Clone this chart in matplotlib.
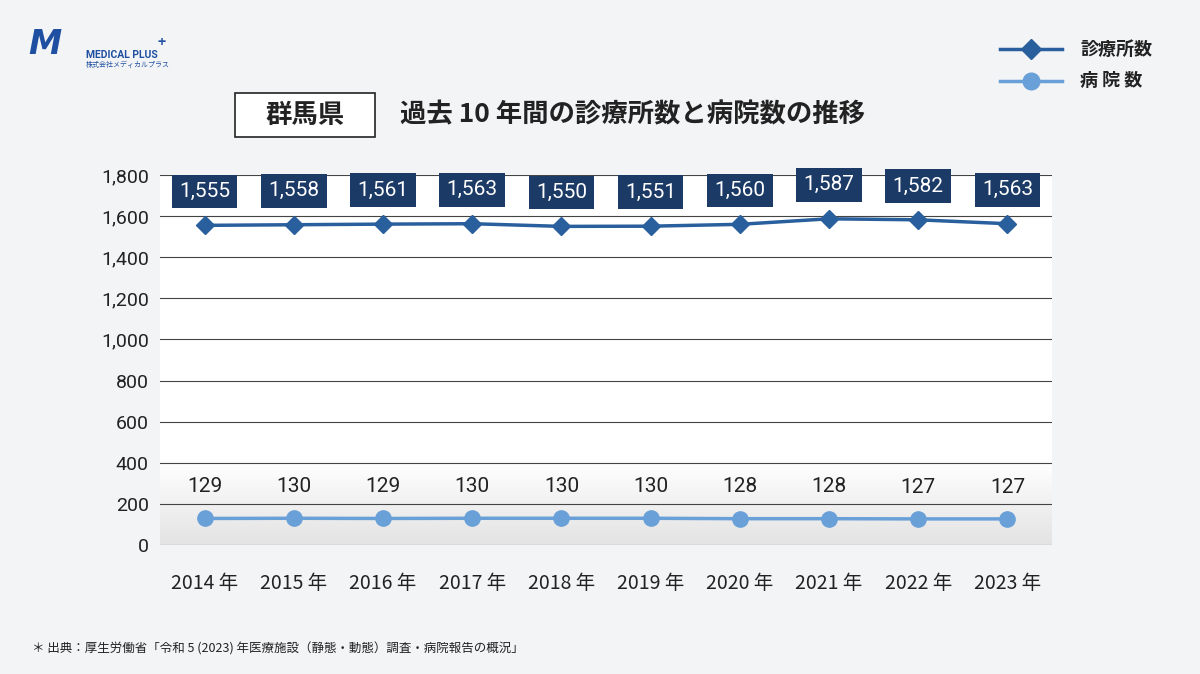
import matplotlib
matplotlib.use("Agg")
import matplotlib.pyplot as plt
import numpy as np

plt.rcParams["font.family"] = "Noto Sans CJK JP"

years = ["2014 年", "2015 年", "2016 年", "2017 年", "2018 年", "2019 年", "2020 年", "2021 年", "2022 年", "2023 年"]
clinics = [1555, 1558, 1561, 1563, 1550, 1551, 1560, 1587, 1582, 1563]
hospitals = [129, 130, 129, 130, 130, 130, 128, 128, 127, 127]
yticks = [0, 200, 400, 600, 800, 1000, 1200, 1400, 1600, 1800]

W, H = 1200, 674
fig = plt.figure(figsize=(W/100, H/100), dpi=100)
fig.patch.set_facecolor("#f3f4f6")
ax = fig.add_axes([160/W, 1-545/H, (1052-160)/W, (545-175)/H])
ax.set_facecolor("white")
x = np.arange(len(years))
ax.set_xlim(-0.5, len(years)-0.5)
ax.set_ylim(0, 1800)
grad = np.linspace(0, 1, 100).reshape(-1, 1)
ax.imshow(grad, extent=(-0.5, len(years)-0.5, 0, 400), aspect="auto",
          cmap=matplotlib.colors.LinearSegmentedColormap.from_list("g", ["#e3e3e3", "#ffffff"]),
          origin="lower", zorder=0)
for t in yticks:
    ax.axhline(t, color="#444444", lw=0.8, zorder=1)
ax.set_yticks(yticks)
ax.set_yticklabels([f"{t:,}" for t in yticks], fontsize=14, color="#222222", fontfamily="Roboto")
ax.set_xticks(x)
ax.set_xticklabels(years, fontsize=14, color="#222222")
ax.tick_params(length=0, pad=8)
ax.tick_params(axis="x", pad=20)
for s in ax.spines.values():
    s.set_visible(False)

ax.plot(x, clinics, color="#2a5f9e", lw=2.5, marker="D", ms=9, zorder=3)
ax.plot(x, hospitals, color="#6aa0d8", lw=2.5, marker="o", ms=11, zorder=3)
for xi, v in zip(x, clinics):
    ax.text(xi, v+165, f"{v:,}", ha="center", va="center", fontsize=15, color="white", fontfamily="Roboto",
            bbox=dict(boxstyle="square,pad=0.35", fc="#1b3a66", ec="none"), zorder=4)
for xi, v in zip(x, hospitals):
    ax.text(xi, v+155, f"{v}", ha="center", va="center", fontsize=15, color="#222222", fontfamily="Roboto", zorder=4)

fig.add_artist(plt.Rectangle((235/W, 1-137/H), 140/W, 44/H, fc="white", ec="#222222", lw=1.2))
fig.text(305/W, 1-115/H, "群馬県", fontsize=19, fontweight="bold", ha="center", va="center", color="#222222")
fig.text(400/W, 1-115/H, "過去 10 年間の診療所数と病院数の推移", fontsize=19, fontweight="bold", ha="left", va="center", color="#222222")

fig.add_artist(plt.Line2D([1000/W, 1062/W], [1-49/H]*2, color="#2a5f9e", lw=2.5))
fig.add_artist(plt.Line2D([1031/W], [1-49/H], color="#2a5f9e", marker="D", ms=10, lw=0))
fig.add_artist(plt.Line2D([1000/W, 1062/W], [1-81/H]*2, color="#6aa0d8", lw=2.5))
fig.add_artist(plt.Line2D([1031/W], [1-81/H], color="#6aa0d8", marker="o", ms=12, lw=0))
fig.text(1080/W, 1-49/H, "診療所数", fontsize=13, fontweight="bold", va="center", color="#222222")
fig.text(1080/W, 1-81/H, "病 院 数", fontsize=13, fontweight="bold", va="center", color="#222222")

fig.text(28/W, 1-45/H, "M", fontsize=24, fontstyle="italic", fontweight="bold", color="#1f4fa0", va="center", fontfamily="DejaVu Sans")
fig.text(86/W, 1-55/H, "MEDICAL PLUS", fontsize=7.5, fontweight="bold", color="#1f4fa0", va="center", fontfamily="Roboto")
fig.text(157/W, 1-43/H, "+", fontsize=10, fontweight="bold", color="#1f4fa0", va="center")
fig.text(86/W, 1-65/H, "株式会社メディカルプラス", fontsize=5, color="#1f4fa0", va="center")

fig.text(32/W, 1-649/H, "＊ 出典：厚生労働省「令和 5 (2023) 年医療施設（静態・動態）調査・病院報告の概況」", fontsize=9, color="#222222", va="center")

fig.savefig("out.png", dpi=100, facecolor=fig.get_facecolor())
